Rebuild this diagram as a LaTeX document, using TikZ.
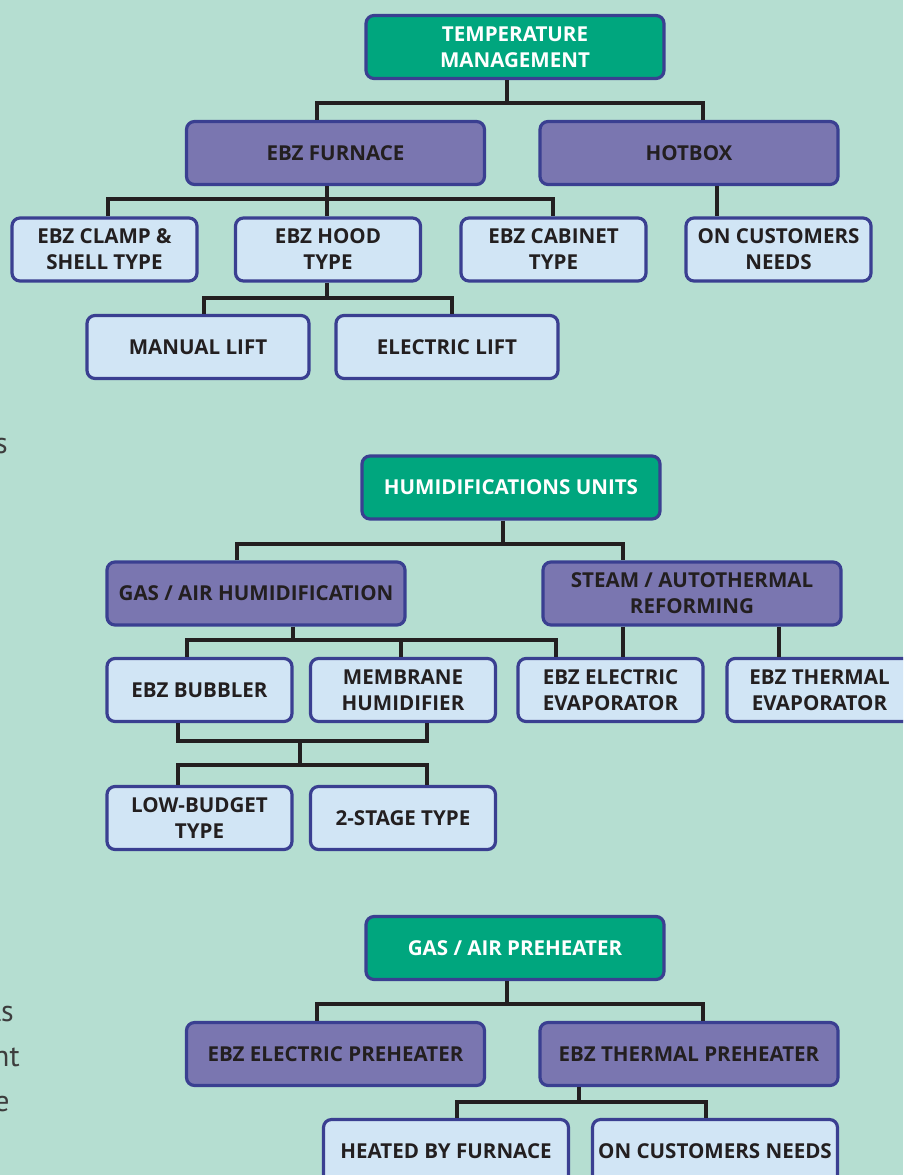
\documentclass[tikz,border=0pt]{standalone}
\usepackage{fontspec}
\setmainfont{Open Sans}
\newfontfamily\bodyfont{PT Sans}
\definecolor{bg}{HTML}{B5DED1}
\definecolor{grn}{HTML}{00A67E}
\definecolor{pur}{HTML}{7A76B0}
\definecolor{lbl}{HTML}{D1E5F5}
\definecolor{bord}{HTML}{3A3F91}
\definecolor{txt}{HTML}{231F20}
\definecolor{body}{HTML}{3D3D3D}
\begin{document}
\begin{tikzpicture}[x=0.02cm,y=-0.02cm,
  box/.style={rectangle, rounded corners=0.16cm, draw=bord, line width=1.8pt, inner sep=0pt,
    align=center, text=txt, font=\fontsize{11.7}{14.8}\selectfont\bfseries},
  gbox/.style={box, fill=grn, text=white, minimum width=298*0.02cm, minimum height=63*0.02cm},
  pbox/.style={box, fill=pur, minimum width=298*0.02cm, minimum height=63*0.02cm},
  sbox/.style={box, fill=lbl, minimum width=185*0.02cm, minimum height=63*0.02cm},
  wbox/.style={box, fill=lbl, minimum width=222*0.02cm, minimum height=63*0.02cm},
  bbox/.style={box, fill=lbl, minimum width=245*0.02cm, minimum height=63*0.02cm},
  conn/.style={draw=txt, line width=1.8pt},
  frag/.style={anchor=base east, inner sep=0pt, text=body, font=\bodyfont\fontsize{17}{20}\selectfont}]
\useasboundingbox (0,0) rectangle (903,1175);
\clip (0,0) rectangle (903,1175);
\fill[bg] (0,0) rectangle (903,1175);

% left text fragments
\node[frag] (f1) at (8,453) {s};
\node[frag] (f2) at (14,1021) {ls};
\node[frag] (f3) at (20,1066) {nt};
\node[frag] (f4) at (10,1111) {e};

% ---------- section 1 ----------
\node[gbox] (tm) at (515,47) {TEMPERATURE\\MANAGEMENT};
\node[pbox] (fur) at (335.5,153) {EBZ FURNACE};
\node[pbox] (hot) at (689,153) {HOTBOX};
\node[sbox] (clamp) at (104.5,249.5) {EBZ CLAMP \&\\SHELL TYPE};
\node[sbox] (hood) at (328,249.5) {EBZ HOOD\\TYPE};
\node[sbox] (cab) at (553.5,249.5) {EBZ CABINET\\TYPE};
\node[sbox] (ocn) at (778.5,249.5) {ON CUSTOMERS\\NEEDS};
\node[wbox] (man) at (198,347) {MANUAL LIFT};
\node[wbox] (ele) at (447,347) {ELECTRIC LIFT};

\coordinate (a0) at (507,103);
\coordinate (a1) at (317,103);
\coordinate (a2) at (703,103);
\draw[conn] (tm.south -| a0) -- (a0);
\draw[conn] (a1 |- fur.north) -- (a1) -- (a2) -- (a2 |- hot.north);

\coordinate (b0) at (327,199);
\coordinate (b1) at (108,199);
\coordinate (b2) at (553,199);
\draw[conn] (fur.south -| b0) -- (hood.north -| b0);
\draw[conn] (b1 |- clamp.north) -- (b1) -- (b2) -- (b2 |- cab.north);

\coordinate (c0) at (717,0);
\draw[conn] (hot.south -| c0) -- (ocn.north -| c0);

\coordinate (d0) at (327,298);
\coordinate (d1) at (204,298);
\coordinate (d2) at (452,298);
\draw[conn] (hood.south -| d0) -- (d0);
\draw[conn] (d1 |- man.north) -- (d1) -- (d2) -- (d2 |- ele.north);

% ---------- section 2 ----------
\node[gbox] (hu) at (511,487.5) {HUMIDIFICATIONS UNITS};
\node[pbox] (gah) at (256,593.5) {GAS / AIR HUMIDIFICATION};
\node[pbox] (sar) at (692,593.5) {STEAM / AUTOTHERMAL\\REFORMING};
\node[sbox] (bub) at (199.5,690) {EBZ BUBBLER};
\node[sbox] (mem) at (403,690) {MEMBRANE\\HUMIDIFIER};
\node[sbox] (eev) at (610.5,690) {EBZ ELECTRIC\\EVAPORATOR};
\node[sbox] (tev) at (819.5,690) {EBZ THERMAL\\EVAPORATOR};
\node[sbox] (low) at (199.5,818) {LOW-BUDGET\\TYPE};
\node[sbox] (two) at (403,818) {2-STAGE TYPE};

\coordinate (e0) at (503,544);
\coordinate (e1) at (237,544);
\coordinate (e2) at (623,544);
\draw[conn] (hu.south -| e0) -- (e0);
\draw[conn] (e1 |- gah.north) -- (e1) -- (e2) -- (e2 |- sar.north);

\coordinate (g0) at (293,640);
\coordinate (g1) at (187,640);
\coordinate (g2) at (401,640);
\coordinate (g3) at (556,640);
\draw[conn] (gah.south -| g0) -- (g0);
\draw[conn] (g1 |- bub.north) -- (g1) -- (g3) -- (g3 |- eev.north);
\draw[conn] (g2) -- (g2 |- mem.north);

\coordinate (h1) at (623,0);
\coordinate (h2) at (779,0);
\draw[conn] (sar.south -| h1) -- (eev.north -| h1);
\draw[conn] (sar.south -| h2) -- (tev.north -| h2);

\coordinate (k1) at (178,741);
\coordinate (k2) at (427,741);
\coordinate (k0) at (300,741);
\coordinate (m0) at (300,765);
\coordinate (m1) at (178,765);
\coordinate (m2) at (427,765);
\draw[conn] (bub.south -| k1) -- (k1) -- (k2) -- (mem.south -| k2);
\draw[conn] (k0) -- (m0);
\draw[conn] (m1 |- low.north) -- (m1) -- (m2) -- (m2 |- two.north);

% ---------- section 3 ----------
\node[gbox] (gap) at (515,948) {GAS / AIR PREHEATER};
\node[pbox] (eep) at (335.5,1054) {EBZ ELECTRIC PREHEATER};
\node[pbox] (etp) at (689,1054) {EBZ THERMAL PREHEATER};
\node[bbox] (hbf) at (446,1151) {HEATED BY FURNACE};
\node[bbox] (ocn2) at (715,1151) {ON CUSTOMERS NEEDS};

\coordinate (p0) at (507,1004);
\coordinate (p1) at (317,1004);
\coordinate (p2) at (703,1004);
\draw[conn] (gap.south -| p0) -- (p0);
\draw[conn] (p1 |- eep.north) -- (p1) -- (p2) -- (p2 |- etp.north);

\coordinate (q0) at (579,1102);
\coordinate (q1) at (457,1102);
\coordinate (q2) at (706,1102);
\draw[conn] (etp.south -| q0) -- (q0);
\draw[conn] (q1 |- hbf.north) -- (q1) -- (q2) -- (q2 |- ocn2.north);
\end{tikzpicture}
\end{document}
